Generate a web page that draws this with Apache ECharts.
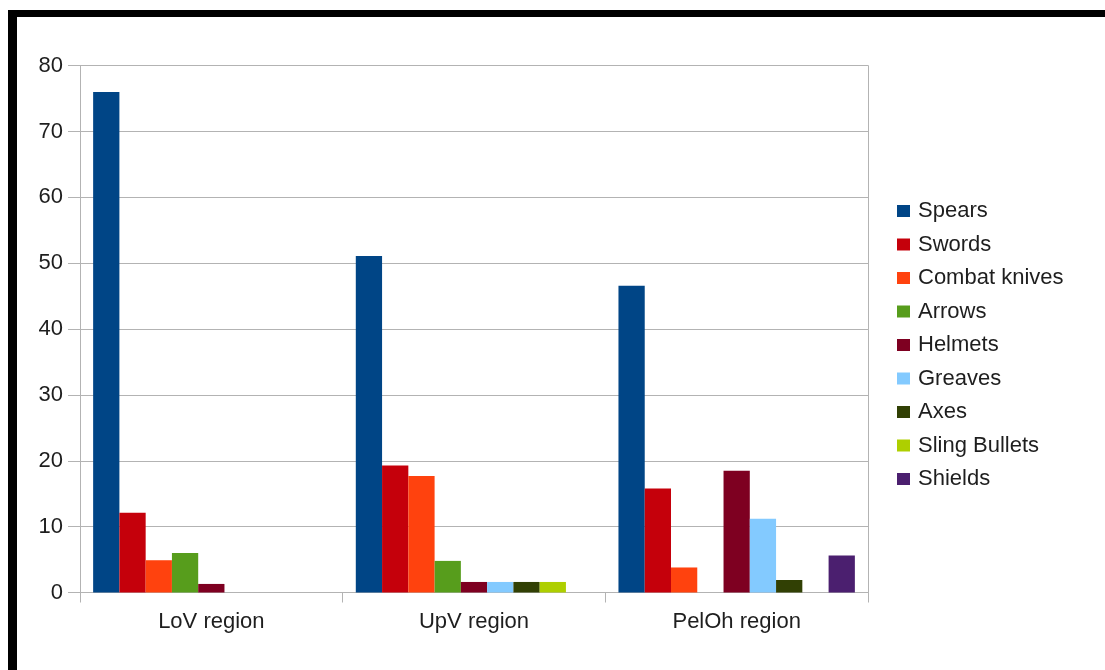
<!DOCTYPE html>
<html>
<head>
<meta charset="utf-8">
<script src="https://cdn.jsdelivr.net/npm/echarts@6/dist/echarts.min.js"></script>
<style>
html,body{margin:0;padding:0;background:#fff;}
#main{width:1105px;height:670px;}
</style>
</head>
<body>
<div id="main"></div>
<script>
const categories = ['LoV region', 'UpV region', 'PelOh region'];
const seriesNames = ['Spears', 'Swords', 'Combat knives', 'Arrows', 'Helmets', 'Greaves', 'Axes', 'Sling Bullets', 'Shields'];
const spears = [76.0, 51.1, 46.6];
const swords = [12.1, 19.3, 15.8];
const combatKnives = [4.9, 17.7, 3.8];
const arrows = [6.0, 4.8, null];
const helmets = [1.3, 1.6, 18.5];
const greaves = [null, 1.6, 11.2];
const axes = [null, 1.6, 1.9];
const slingBullets = [null, 1.6, null];
const shields = [null, null, 5.6];
const yTicks = [0, 10, 20, 30, 40, 50, 60, 70, 80];
const colors = ['#004586', '#c5000b', '#ff420e', '#579d1c', '#7e0021', '#83caff', '#314004', '#aecf00', '#4b1f6f'];

const values = [spears, swords, combatKnives, arrows, helmets, greaves, axes, slingBullets, shields];
const font = 'Liberation Sans, Arial, sans-serif';
const chart = echarts.init(document.getElementById('main'), null, {renderer: 'canvas'});
const option = {
  animation: false,
  color: colors,
  grid: {left: 80, right: 237, top: 65.7, bottom: 77.5, containLabel: false},
  legend: {
    orient: 'vertical',
    left: 897,
    top: 200,
    padding: 0,
    itemWidth: 13,
    itemHeight: 12,
    itemGap: 11.5,
    icon: 'rect',
    data: seriesNames,
    textStyle: {fontFamily: font, fontSize: 22, color: '#1e1e1e', padding: [0, 0, 0, 3], lineHeight: 22}
  },
  xAxis: {
    type: 'category',
    data: categories,
    axisLine: {lineStyle: {color: '#b3b3b3', width: 1}},
    axisTick: {show: true, length: 10, lineStyle: {color: '#b3b3b3'}},
    axisLabel: {fontFamily: font, fontSize: 22, color: '#1e1e1e', margin: 18},
    splitLine: {show: false}
  },
  yAxis: [{
    type: 'value',
    min: 0,
    max: 80,
    interval: 10,
    axisLine: {show: true, lineStyle: {color: '#b3b3b3'}},
    axisTick: {show: true, length: 12, lineStyle: {color: '#b3b3b3'}},
    axisLabel: {fontFamily: font, fontSize: 22, color: '#1e1e1e', margin: 17,
      formatter: v => yTicks.includes(v) ? String(v) : ''},
    splitLine: {lineStyle: {color: '#b3b3b3', width: 1}}
  }, {
    type: 'value',
    position: 'right',
    min: 0,
    max: 80,
    interval: 10,
    axisLine: {show: true, lineStyle: {color: '#b3b3b3'}},
    axisTick: {show: false},
    axisLabel: {show: false},
    splitLine: {show: false}
  }],
  series: seriesNames.map((name, i) => ({
    name: name,
    type: 'bar',
    data: values[i],
    barGap: '0%',
    barCategoryGap: '10%',
    itemStyle: {color: colors[i]}
  })),
  graphic: [
    {type: 'rect', shape: {x: 8, y: 10, width: 1097, height: 7}, style: {fill: '#000'}, silent: true},
    {type: 'rect', shape: {x: 8, y: 10, width: 9, height: 660}, style: {fill: '#000'}, silent: true}
  ]
};
chart.setOption(option);
</script>
</body>
</html>
